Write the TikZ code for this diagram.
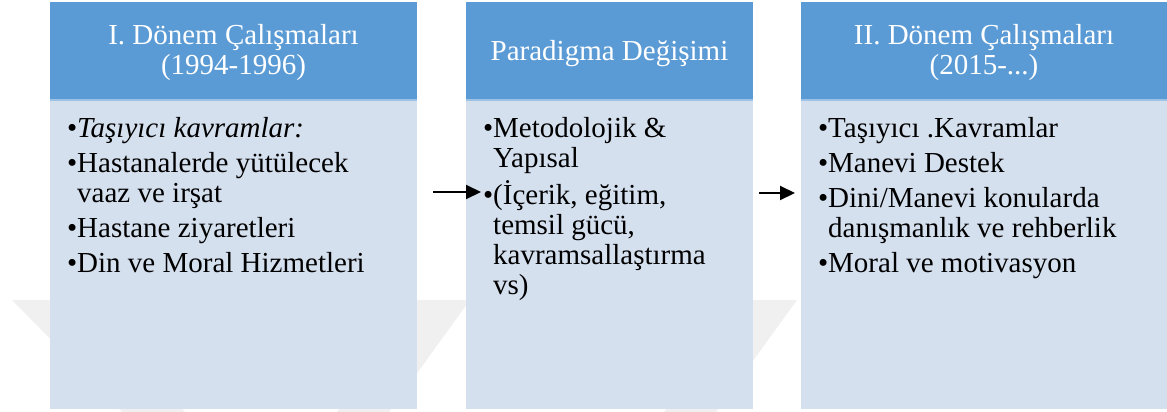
\documentclass[tikz,border=0pt]{standalone}
\usepackage{fontspec}
\setmainfont{Liberation Serif}
\usetikzlibrary{arrows.meta}
\definecolor{hdr}{HTML}{5B9BD5}
\definecolor{bdy}{HTML}{D5E0EF}
\definecolor{wm}{HTML}{F0F0F0}
\definecolor{sep}{HTML}{9EC2E6}
\newcommand{\bl}{\llap{•}}
\tikzset{
  hdrbox/.style={fill=hdr, draw=none, inner sep=0pt, anchor=north west},
  bdybox/.style={fill=bdy, draw=none, inner sep=0pt, anchor=north west},
  hdrtext/.style={text=white, inner sep=0pt, anchor=base, font=\fontsize{29}{30}\selectfont},
  bdytext/.style={text=black, inner sep=0pt, anchor=base west, font=\fontsize{29}{30}\selectfont},
  arr/.style={-{Triangle[length=15pt,width=14pt]}, line width=2pt},
  wmark/.style={fill=wm, draw=none},
  sepline/.style={draw=sep, line width=1.5pt}
}
\begin{document}
\begin{tikzpicture}[x=1pt, y=-1pt]
\useasboundingbox (0,0) rectangle (1167,412);
% faint watermark
\fill[wmark] (12,300) -- (75,300) -- (185,412) -- (122,412) -- cycle;
\fill[wmark] (418,300) -- (470,300) -- (389,412) -- (337,412) -- cycle;
\fill[wmark] (745,300) -- (797,300) -- (716,412) -- (664,412) -- cycle;
% column 1
\node[hdrbox, minimum width=367pt, minimum height=98pt] (h1) at (50,2) {};
\node[bdybox, minimum width=367pt, minimum height=309pt] (b1) at (50,100) {};
% column 2
\node[hdrbox, minimum width=287pt, minimum height=98pt] (h2) at (466,2) {};
\node[bdybox, minimum width=287pt, minimum height=309pt] (b2) at (466,100) {};
% column 3
\node[hdrbox, minimum width=366pt, minimum height=98pt] (h3) at (801,2) {};
\node[bdybox, minimum width=366pt, minimum height=309pt] (b3) at (801,100) {};
% separators between header and body
\draw[sepline] (b1.north west) -- (b1.north east);
\draw[sepline] (b2.north west) -- (b2.north east);
\draw[sepline] (b3.north west) -- (b3.north east);
% headers
\node[hdrtext] (h1t) at (233.5,45) {\begin{tabular}[t]{@{}c@{}}I. Dönem Çalışmaları\\(1994-1996)\end{tabular}};
\node[hdrtext] (h2t) at (609.5,60) {Paradigma Değişimi};
\node[hdrtext] (h3t) at (984,45) {\begin{tabular}[t]{@{}c@{}}II. Dönem Çalışmaları\\(2015-...)\end{tabular}};
% bodies
\node[bdytext] (b1t) at (77,137) {\begin{tabular}[t]{@{}l@{}}\bl\textit{Taşıyıcı kavramlar:}\\[5pt]
\bl Hastanalerde yütülecek\\
vaaz ve irşat\\[5pt]
\bl Hastane ziyaretleri\\[5pt]
\bl Din ve Moral Hizmetleri\end{tabular}};
\node[bdytext] (b2t) at (493,137) {\begin{tabular}[t]{@{}l@{}}\bl Metodolojik \&\\
Yapısal\\[5pt]
\bl(İçerik, eğitim,\\
temsil gücü,\\
kavramsallaştırma\\
vs)\end{tabular}};
\node[bdytext] (b3t) at (828,137) {\begin{tabular}[t]{@{}l@{}}\bl Taşıyıcı .Kavramlar\\[5pt]
\bl Manevi Destek\\[5pt]
\bl Dini/Manevi konularda\\
danışmanlık ve rehberlik\\[5pt]
\bl Moral ve motivasyon\end{tabular}};
% arrows
\coordinate (a1s) at (433,192);
\coordinate (a1e) at (481,192);
\coordinate (a2s) at (759,193);
\coordinate (a2e) at (795,193);
\draw[arr] (a1s) -- (a1e);
\draw[arr] (a2s) -- (a2e);
\end{tikzpicture}
\end{document}
